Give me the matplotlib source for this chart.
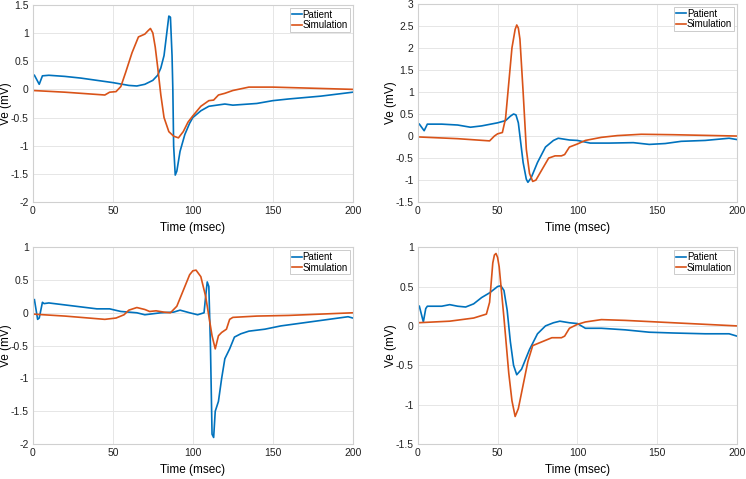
import matplotlib
matplotlib.use("Agg")
import matplotlib.pyplot as plt

plt.rcParams['font.family'] = ['Liberation Sans', 'DejaVu Sans']

# MATLAB default colours
c_pat = '#0072BD'
c_sim = '#D95319'

# ---- panel 1 (top left) ----
p1_t = [1, 4, 6, 10, 20, 30, 40, 50, 60, 65, 70, 75, 78, 80, 82, 83.5, 85, 86, 87, 87.5, 88, 89, 90, 92, 95,
        98, 100, 105, 110, 120, 125, 140, 150, 160, 180, 200]
p1_v = [0.25, 0.09, 0.24, 0.25, 0.23, 0.2, 0.16, 0.12, 0.07, 0.06, 0.09, 0.16, 0.25, 0.38, 0.6, 0.95, 1.3, 1.28,
        0.6, 0.0, -1.0, -1.52, -1.45, -1.1, -0.8, -0.6, -0.5, -0.38, -0.3, -0.26, -0.28, -0.25, -0.2, -0.17,
        -0.12, -0.05]
s1_t = [0, 20, 45, 48, 52, 55, 58, 62, 66, 70, 72, 73.5, 75, 76.5, 78, 80, 82, 85, 88, 91, 94, 97, 100, 105,
        110, 113, 116, 120, 125, 135, 150, 175, 200]
s1_v = [-0.02, -0.05, -0.1, -0.05, -0.04, 0.05, 0.3, 0.65, 0.93, 0.98, 1.04, 1.08, 1.0, 0.75, 0.4, -0.1, -0.5,
        -0.75, -0.83, -0.86, -0.75, -0.58, -0.47, -0.3, -0.2, -0.19, -0.1, -0.07, -0.02, 0.04, 0.04, 0.02, 0.0]

# ---- panel 2 (top right) ----
p2_t = [1, 4, 6, 15, 25, 33, 40, 50, 55, 58, 60, 61.5, 63, 64, 66, 68, 69, 71, 75, 80, 85, 88, 95, 100, 108,
        120, 135, 145, 155, 165, 180, 195, 200]
p2_v = [0.27, 0.12, 0.27, 0.27, 0.25, 0.2, 0.23, 0.3, 0.35, 0.45, 0.5, 0.48, 0.3, 0.0, -0.6, -0.98, -1.05,
        -0.95, -0.6, -0.25, -0.1, -0.05, -0.09, -0.1, -0.16, -0.16, -0.15, -0.19, -0.17, -0.12, -0.1, -0.05,
        -0.08]
s2_t = [0, 25, 45, 48, 50, 53, 55, 57, 59, 61, 62, 63, 64, 66, 68, 70, 72, 74, 78, 82, 86, 90, 92, 95, 100,
        105, 115, 125, 140, 160, 200]
s2_v = [-0.02, -0.06, -0.11, 0.0, 0.05, 0.08, 0.4, 1.2, 2.0, 2.42, 2.52, 2.45, 2.2, 1.0, -0.3, -0.85, -1.03,
        -1.0, -0.75, -0.5, -0.45, -0.45, -0.42, -0.25, -0.18, -0.1, -0.03, 0.01, 0.04, 0.03, 0.0]

# ---- panel 3 (bottom left) ----
p3_t = [1, 3, 4, 6, 7, 10, 20, 30, 40, 48, 55, 65, 70, 80, 88, 92, 98, 103, 107, 108, 109, 110, 111, 112,
        113, 114, 116, 118, 120, 123, 126, 130, 135, 145, 155, 170, 185, 197, 200]
p3_v = [0.2, -0.1, -0.08, 0.16, 0.14, 0.15, 0.12, 0.09, 0.06, 0.06, 0.02, 0.0, -0.03, 0.0, 0.01, 0.04, 0.0,
        -0.03, 0.0, 0.25, 0.47, 0.4, -0.5, -1.85, -1.9, -1.5, -1.35, -1.0, -0.7, -0.55, -0.37, -0.32, -0.28,
        -0.25, -0.2, -0.15, -0.1, -0.06, -0.08]
s3_t = [0, 20, 45, 52, 57, 60, 65, 70, 73, 77, 82, 86, 90, 95, 98, 100, 102, 105, 108, 110, 112, 114, 116,
        118, 121, 123, 125, 140, 160, 180, 200]
s3_v = [-0.02, -0.05, -0.1, -0.08, -0.03, 0.04, 0.08, 0.05, 0.02, 0.03, 0.01, 0.0, 0.1, 0.4, 0.58, 0.64, 0.65,
        0.55, 0.25, -0.05, -0.35, -0.55, -0.35, -0.3, -0.25, -0.1, -0.07, -0.05, -0.04, -0.02, 0.0]

# ---- panel 4 (bottom right) ----
p4_t = [1, 3.5, 5, 6, 15, 20, 25, 30, 35, 40, 45, 50, 52, 54, 56, 58, 60, 62, 65, 70, 75, 80, 85, 89, 95,
        100, 105, 115, 130, 145, 160, 180, 195, 200]
p4_v = [0.25, 0.05, 0.22, 0.25, 0.25, 0.27, 0.25, 0.24, 0.28, 0.36, 0.42, 0.5, 0.51, 0.45, 0.2, -0.2, -0.5,
        -0.62, -0.55, -0.3, -0.1, 0.0, 0.04, 0.06, 0.04, 0.03, -0.03, -0.03, -0.05, -0.08, -0.09, -0.1, -0.1,
        -0.13]
s4_t = [0, 20, 35, 43, 45, 47, 48, 49, 50, 51, 54, 57, 59, 61, 63, 66, 69, 72, 78, 84, 90, 92, 95, 100, 105,
        115, 130, 160, 200]
s4_v = [0.04, 0.06, 0.1, 0.15, 0.3, 0.8, 0.9, 0.92, 0.87, 0.75, 0.1, -0.6, -0.95, -1.15, -1.05, -0.75, -0.45,
        -0.25, -0.2, -0.15, -0.15, -0.13, -0.03, 0.02, 0.05, 0.08, 0.07, 0.04, 0.0]

panels = [
    (p1_t, p1_v, s1_t, s1_v, (-2, 1.5), [-2, -1.5, -1, -0.5, 0, 0.5, 1, 1.5]),
    (p2_t, p2_v, s2_t, s2_v, (-1.5, 3), [-1.5, -1, -0.5, 0, 0.5, 1, 1.5, 2, 2.5, 3]),
    (p3_t, p3_v, s3_t, s3_v, (-2, 1), [-2, -1.5, -1, -0.5, 0, 0.5, 1]),
    (p4_t, p4_v, s4_t, s4_v, (-1.5, 1), [-1.5, -1, -0.5, 0, 0.5, 1]),
]
boxes = [
    [0.044, 0.578, 0.429, 0.412],
    [0.560, 0.578, 0.428, 0.414],
    [0.044, 0.073, 0.429, 0.411],
    [0.560, 0.073, 0.428, 0.411],
]

fig = plt.figure(figsize=(7.46, 4.79), dpi=100)

for (pt, pv, st, sv, ylim, yt), box in zip(panels, boxes):
    ax = fig.add_axes(box)
    ax.plot(pt, pv, color=c_pat, lw=1.2, label='Patient')
    ax.plot(st, sv, color=c_sim, lw=1.2, label='Simulation')
    ax.set_xlim(0, 200)
    ax.set_ylim(*ylim)
    ax.set_xticks([0, 50, 100, 150, 200])
    ax.set_yticks(yt)
    ax.set_yticklabels([f'{v:g}' for v in yt])
    ax.grid(True, color='#e6e6e6', lw=0.7)
    ax.set_axisbelow(True)
    for sp in ax.spines.values():
        sp.set_color('#d0d0d0')
        sp.set_linewidth(0.8)
    ax.tick_params(length=0, labelsize=7.5, colors='#222222', pad=3)
    ax.set_xlabel('Time (msec)', fontsize=8.5, labelpad=4)
    ax.set_ylabel('Ve (mV)', fontsize=8.5)
    ax.yaxis.set_label_coords(-0.066, 0.5)
    leg = ax.legend(loc='upper right', fontsize=7, handlelength=1.0, handletextpad=0.1,
                    borderpad=0.2, labelspacing=0.05, borderaxespad=0.3, fancybox=False, framealpha=1)
    leg.get_frame().set_edgecolor('#cccccc')
    leg.get_frame().set_linewidth(0.7)

fig.savefig('out.png', dpi=100)
